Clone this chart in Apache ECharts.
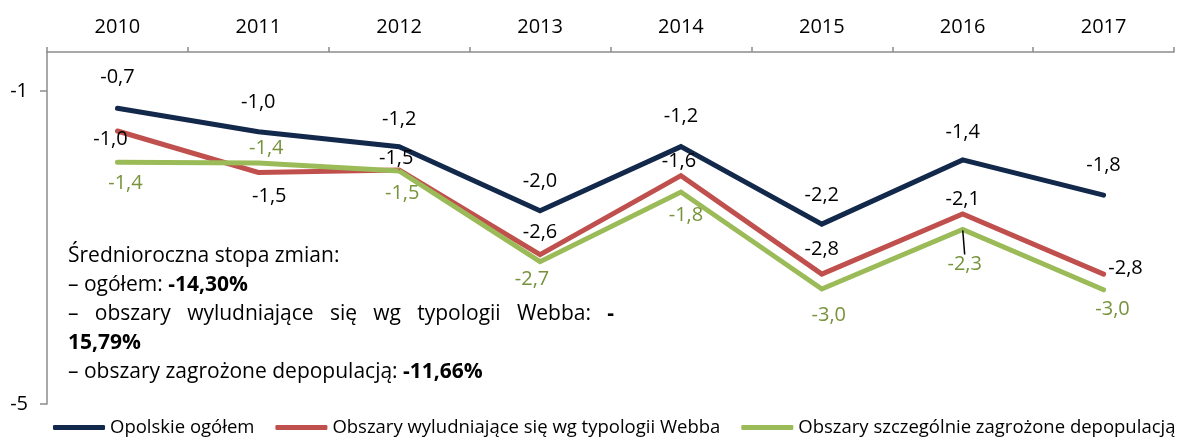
<!DOCTYPE html>
<html>
<head>
<meta charset="utf-8">
<script src="https://cdn.jsdelivr.net/npm/echarts@6/dist/echarts.min.js"></script>
<style>
html,body{margin:0;padding:0;background:#fff;}
#chart{width:1181px;height:437px;}
</style>
</head>
<body>
<div id="chart"></div>
<script>
// ---- data ----
const years = ['2010', '2011', '2012', '2013', '2014', '2015', '2016', '2017'];
const opolskie = [-0.72, -1.02, -1.21, -2.03, -1.21, -2.20, -1.38, -1.83];
const webb = [-1.01, -1.54, -1.51, -2.59, -1.58, -2.84, -2.07, -2.84];
const depop = [-1.41, -1.42, -1.52, -2.68, -1.79, -3.03, -2.27, -3.04];
const seriesNames = ['Opolskie ogółem', 'Obszary wyludniające się wg typologii Webba', 'Obszary szczególnie zagrożone depopulacją'];
const yTickValues = [-4.5, -0.5];
const yTickLabels = ['-5', '-1'];

// ---- label placement (styling, separate from data) ----
const offDark = [[0,-31],[0,-29],[0,-27],[0,-29],[0,-30],[0,-29],[0,-28],[0,-30]];
const offRed = [[-7,8],[11,24],[-3,-12],[0,-22],[-2,-14],[0,-25],[0,-15],[22,-6]];
const offGreen = [[8,21],[8,-15],[3,22],[-8,18],[5,23],[7,26],[2,35],[9,20]];
const leaderIdxGreen = 6; // label with a leader line in the original

const FONT = '"Open Sans", "Noto Sans", sans-serif';
const FS_LABEL = 20;
const FS_AXIS = 20;
const FS_LEGEND = 18.5;
const FS_BOX = 21;
const fmt = v => v.toFixed(1).replace('.', ',');

function mk(name, vals, offs, color, labelColor, leaderIdx) {
  return {
    name: name,
    type: 'line',
    data: vals.map((v, i) => {
      const d = { value: v, label: { offset: offs[i] } };
      if (i === leaderIdx) {
        d.labelLine = { show: true, showAbove: true, lineStyle: { color: '#000', width: 1.5 } };
      }
      return d;
    }),
    symbol: 'circle',
    symbolSize: 2,
    itemStyle: { color: color },
    lineStyle: { color: color, width: 5, cap: 'round', join: 'miter' },
    label: {
      show: true,
      position: 'inside',
      align: 'center',
      verticalAlign: 'middle',
      color: labelColor,
      fontFamily: FONT,
      fontSize: FS_LABEL,
      formatter: p => fmt(p.value)
    },
    emphasis: { disabled: true },
    animation: false
  };
}

// text box
const ctx = document.createElement('canvas').getContext('2d');
const boxX = 68;
const boxRight = 614;
function fontStr(bold) { return (bold ? 'bold ' : '') + FS_BOX + 'px ' + FONT; }
function justified(words, y, boldLast) {
  const els = [];
  const widths = words.map((w, i) => {
    ctx.font = fontStr(boldLast && i === words.length - 1);
    return ctx.measureText(w).width;
  });
  const total = widths.reduce((a, b) => a + b, 0);
  const gap = Math.max(6, (boxRight - boxX - total) / (words.length - 1));
  let x = boxX;
  words.forEach((w, i) => {
    els.push({
      type: 'text', x: x, y: y,
      style: {
        text: w, fill: '#000',
        font: fontStr(boldLast && i === words.length - 1),
        textVerticalAlign: 'middle', verticalAlign: 'middle'
      }
    });
    x += widths[i] + gap;
  });
  return els;
}

const lineY = [256, 285, 314, 343, 372];
const rich = { b: { fontWeight: 'bold', fontFamily: FONT, fontSize: FS_BOX, fill: '#000' } };
function txt(t, y) {
  return {
    type: 'text', x: boxX, y: y,
    style: {
      text: t, fill: '#000', font: fontStr(false), rich: rich,
      textVerticalAlign: 'middle', verticalAlign: 'middle'
    }
  };
}
const graphics = [
  txt('Średnioroczna stopa zmian:', lineY[0]),
  txt('– ogółem: {b|-14,30%}', lineY[1]),
  ...justified(['–', 'obszary', 'wyludniające', 'się', 'wg', 'typologii', 'Webba:', '-'], lineY[2], true),
  txt('{b|15,79%}', lineY[3]),
  txt('– obszary zagrożone depopulacją: {b|-11,66%}', lineY[4])
];

const chart = echarts.init(document.getElementById('chart'), null, { renderer: 'canvas' });
chart.setOption({
  animation: false,
  backgroundColor: '#fff',
  textStyle: { fontFamily: FONT },
  grid: { left: 47, right: 7, top: 52, bottom: 33, containLabel: false },
  xAxis: {
    type: 'category',
    position: 'top',
    data: years,
    boundaryGap: true,
    axisLine: { show: true, lineStyle: { color: '#8c8c8c', width: 1.5 } },
    axisTick: { show: true, length: 5, lineStyle: { color: '#8c8c8c', width: 1.5 } },
    axisLabel: { color: '#000', fontSize: FS_AXIS, fontFamily: FONT, margin: 15 },
    splitLine: { show: false }
  },
  yAxis: {
    type: 'value',
    min: -4.5,
    max: 0,
    axisLine: { show: true, lineStyle: { color: '#8c8c8c', width: 1.5 } },
    axisTick: { show: true, length: 7, customValues: yTickValues, lineStyle: { color: '#8c8c8c', width: 1.5 } },
    axisLabel: {
      color: '#000', fontSize: FS_AXIS, fontFamily: FONT, margin: 19,
      customValues: yTickValues,
      formatter: v => yTickLabels[yTickValues.indexOf(v)] ?? ''
    },
    splitLine: { show: false }
  },
  legend: {
    left: 48,
    top: 413,
    width: 1600,
    itemWidth: 52,
    itemHeight: 5,
    itemGap: 21,
    icon: 'roundRect',
    textStyle: { color: '#000', fontSize: FS_LEGEND, fontFamily: FONT },
    data: seriesNames
  },
  series: [
    mk(seriesNames[0], opolskie, offDark, '#13294b', '#000', -1),
    mk(seriesNames[1], webb, offRed, '#c0504d', '#000', -1),
    mk(seriesNames[2], depop, offGreen, '#9bbb59', '#77933c', leaderIdxGreen)
  ],
  graphic: graphics
});
</script>
</body>
</html>
